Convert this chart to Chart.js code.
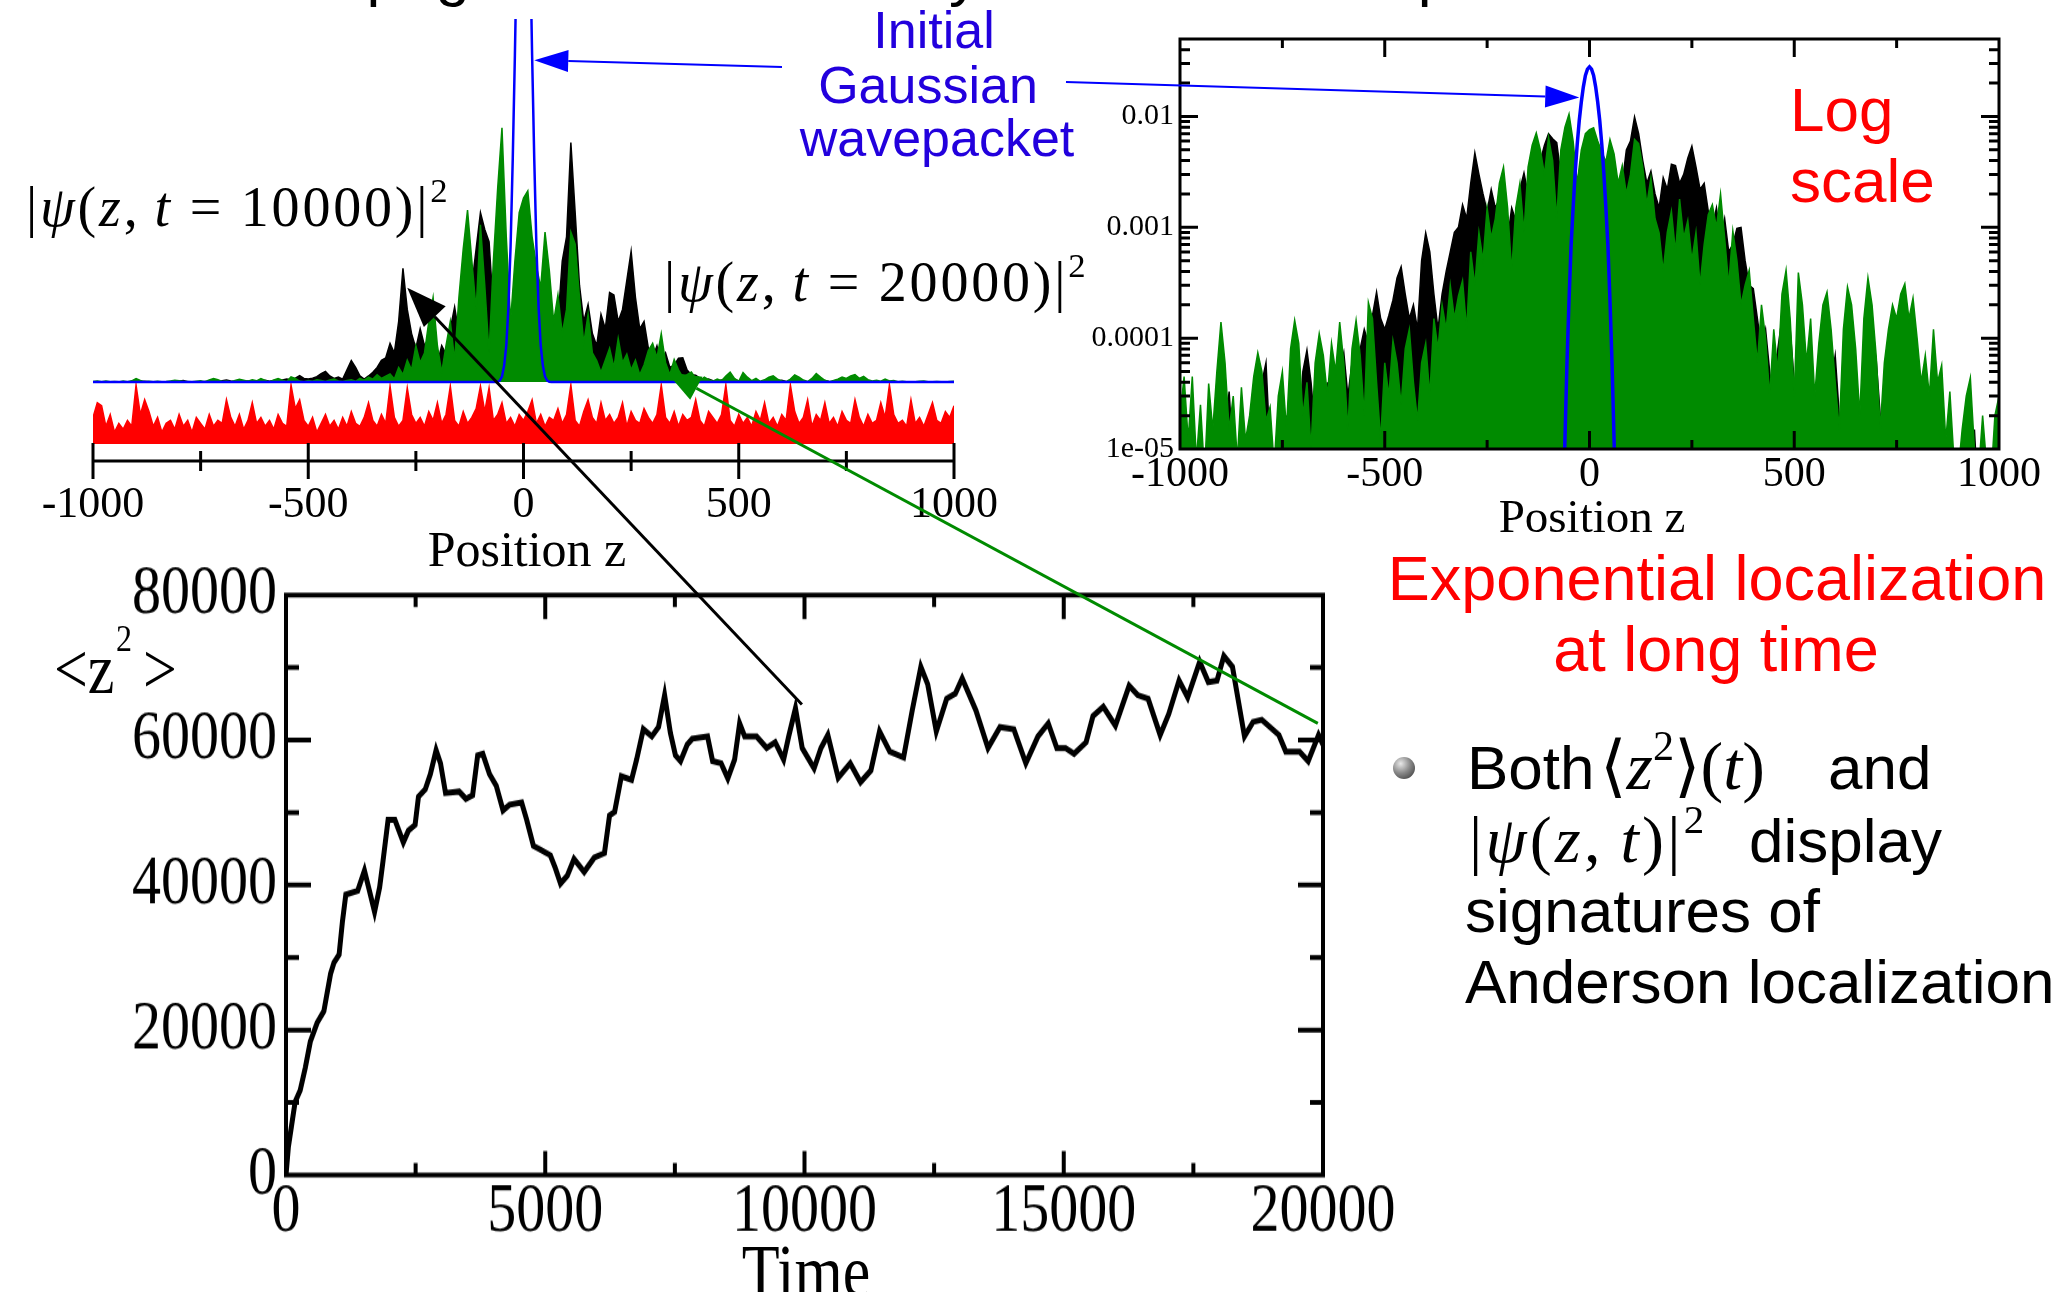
<!DOCTYPE html>
<html>
<head>
<meta charset="utf-8">
<script src="https://cdn.jsdelivr.net/npm/chart.js@4.4.1/dist/chart.umd.min.js"></script>
<style>
  html, body { margin: 0; padding: 0; background: #fff; }
  body { width: 2070px; height: 1292px; position: relative; overflow: hidden; }
  canvas { position: absolute; }
  .t { position: absolute; white-space: nowrap; }
  .sup { position: relative; font-size: 0.62em; top: -0.7em; }
  .math { letter-spacing: 0.05em; }
  #bottomBox { position: absolute; left: 0; top: 560px; width: 1400px; height: 610px; transform: scaleY(1.2); transform-origin: 0 0; }
  #overlay { z-index: 10; pointer-events: none; }
  #bullet { position: absolute; left: 1393px; top: 757px; width: 22px; height: 22px; border-radius: 50%;
            background: radial-gradient(circle at 35% 30%, #e8e8e8, #8a8a8a 45%, #2e2e2e 100%); }
</style>
</head>
<body>
<canvas id="topLeft" width="1020" height="520" style="left:0;top:0"></canvas>
<canvas id="topRight" width="990" height="540" style="left:1080px;top:0"></canvas>
<div id="bottomBox"><canvas id="bottom" width="1400" height="610" style="left:0;top:0"></canvas></div>
<div id="bullet"></div>
<canvas id="overlay" width="2070" height="1292" style="left:0;top:0"></canvas>
<script>
// <z^2>(t)
const msdTime = [0,46,111,176,274,372,469,600,730,861,926,1024,1089,1154,1382,1513,1610,1708,1806,1871,
  1969,2100,2263,2361,2490,2555,2686,2784,2895,2980,3077,3338,3469,3599,3697,3795,3925,4055,4186,4316,
  4544,4642,4772,4903,5099,5197,5295,5425,5555,5751,5947,6142,6240,6338,6468,6664,6762,6892,7055,7185,
  7302,7413,7511,7609,7739,7837,8130,8228,8391,8521,8652,8749,8847,9075,9270,9434,9597,9695,9826,9956,
  10185,10318,10450,10650,10882,11081,11280,11447,11646,11911,12078,12244,12376,12542,12742,12908,13041,13306,13539,13771,
  14037,14269,14502,14701,14867,15033,15199,15431,15564,15763,15996,16261,16427,16627,16859,17025,17224,17390,17622,17789,
  17955,18088,18254,18486,18652,18818,19150,19283,19548,19714,19914,20000];
const msdValue = [0,3900,7000,10100,11700,14800,18400,21000,22600,27800,29300,30400,35000,38700,39200,42000,39200,36300,39700,43300,
  49000,49000,45900,47500,48300,52200,53200,55300,58600,56800,52700,52900,51900,52400,57900,58100,55300,53700,50300,51100,
  51400,49000,45400,44900,44100,42300,40200,41300,43600,41800,43800,44400,49600,50100,55000,54500,57300,61500,60500,61800,
  66200,61000,57900,57100,59400,60200,60500,57100,56800,54700,57300,62300,60500,60500,58900,59700,57300,60500,64400,58900,
  56100,58900,60700,54800,56800,54200,55800,61200,58400,57600,64100,70100,67700,61200,65700,66400,68500,64100,58900,61800,
  61500,56800,60500,62300,58900,58900,58100,59700,63300,64600,62000,67500,66200,65700,60700,63600,68200,65900,70800,68000,
  68200,71600,70100,60500,62500,62800,60700,58400,58400,57100,60700,59400];

// |psi(z,t=20000)|^2, z = -1000..1000 step 10
const green20000 = [
  2e-5,4.5e-5,1.2e-5,4.5e-5,8e-6,2.5e-5,6e-6,3.9e-5,1.5e-5,5e-5,
  1.4e-4,6e-5,1.5e-5,3e-5,8e-6,3.6e-5,1.2e-5,2e-5,4.5e-5,7.4e-5,
  5e-5,1.8e-5,2.4e-5,7e-6,3e-5,5e-5,1.5e-5,8e-5,1.45e-4,9e-5,
  2e-5,4e-5,1e-5,6e-5,1.1e-4,7e-5,3e-5,9e-5,5e-5,1.4e-4,
  6e-5,1.5e-5,8e-5,1.45e-4,7e-5,2e-5,2.1e-4,1.5e-4,4e-5,1.2e-5,
  6e-5,3e-5,9.5e-5,6e-5,2.5e-5,8e-5,1.2e-4,4e-5,1.8e-5,6e-5,
  9e-5,3e-5,1.5e-4,8e-5,2e-4,1.2e-4,3e-4,1.5e-4,2.4e-4,3.3e-4,
  1.2e-4,6e-4,3e-4,9e-4,5e-4,1.5e-3,8e-4,1.2e-3,2.5e-3,3.5e-3,
  1.5e-3,4e-4,1.5e-3,2.5e-3,9e-4,3.5e-3,5.5e-3,7.1e-3,5e-3,3e-3,
  6.5e-3,4e-3,1.2e-3,5e-3,8e-3,1.05e-2,6e-3,2.5e-3,5e-3,7e-3,
  7.6e-3,7.9e-3,6e-3,4.8e-3,3.9e-3,6.2e-3,4.6e-3,2.5e-3,3.6e-3,2e-3,
  3e-3,6.2e-3,5.7e-3,3.5e-3,1.6e-3,2.8e-3,1.2e-3,8.9e-4,4e-4,9e-4,
  1.4e-3,6e-4,1.8e-3,8e-4,1.15e-3,5e-4,9e-4,3e-4,7e-4,1.3e-3,
  1.6e-3,1e-3,2e-3,8e-4,3e-4,9.3e-4,5e-4,2e-4,3e-4,4.1e-4,
  1.5e-4,6e-5,2e-4,1e-4,3e-5,1.2e-4,5e-5,2.5e-4,4.1e-4,1.5e-4,
  3e-5,3.9e-4,2e-4,6e-5,1.5e-4,3e-5,9e-5,2e-4,2.6e-4,1.2e-4,
  4e-5,1.5e-5,1.2e-4,2.9e-4,2e-4,8e-5,2e-5,1.5e-4,3.5e-4,2e-4,
  7e-5,1.5e-5,6e-5,1.2e-4,2e-4,1.5e-4,2.5e-4,3.1e-4,1.5e-4,2.3e-4,
  1e-4,4e-5,7e-5,3e-5,1.2e-4,4e-5,5.7e-5,1.2e-5,3.3e-5,8e-6,
  6e-6,1.5e-5,3e-5,4.4e-5,1e-5,6e-6,2e-5,7e-6,5e-6,2e-5,
  3e-5];

// |psi(z,t=10000)|^2, same grid
const black10000 = [
  8e-6,3e-6,1.5e-5,4e-6,2e-6,9e-6,3e-6,1.2e-5,4e-6,2e-5,
  6e-6,1.5e-5,3.3e-5,8e-6,3e-6,1.2e-5,4e-6,1.5e-5,6e-6,2.5e-5,
  4e-5,6e-5,1e-5,3e-6,1.5e-5,5e-6,2e-5,8e-6,3e-5,1.2e-5,
  5e-5,7.8e-5,4e-5,1.5e-5,3e-5,8e-6,4e-5,1.5e-5,3e-5,5e-5,
  7.4e-5,3e-5,6e-5,1.5e-5,8e-5,1.2e-4,9e-5,1.6e-4,2.6e-4,1.5e-4,
  1.2e-4,1.6e-4,2.2e-4,3.5e-4,4.4e-4,2.5e-4,1.5e-4,2e-4,1.2e-4,5e-4,
  8.9e-4,6e-4,2.5e-4,1.2e-4,2.5e-4,4e-4,6e-4,9e-4,1e-3,1.6e-3,
  1.2e-3,2.5e-3,4.7e-3,3e-3,2e-3,1.4e-3,2.2e-3,1.5e-3,1.8e-3,1.2e-3,
  8e-4,1.5e-3,1.15e-3,2.2e-3,3.1e-3,2e-3,3.5e-3,2.5e-3,4e-3,5.5e-3,
  7e-3,6.3e-3,5.8e-3,3e-3,1.2e-3,2e-3,8e-4,1.5e-3,1.5e-3,4e-4,
  2e-3,7.5e-3,2.5e-3,6e-4,1.2e-3,3e-3,4e-3,1.5e-3,2.5e-3,5e-3,
  6e-3,9.9e-3,7e-3,4e-3,2.5e-3,3.2e-3,2e-3,1.5e-3,2.8e-3,2.2e-3,
  3.7e-3,3.6e-3,2.5e-3,3e-3,4.2e-3,5.4e-3,3.5e-3,2.2e-3,2.5e-3,1.4e-3,
  1e-3,1.5e-3,8e-4,1.2e-3,6e-4,7e-4,9.8e-4,1e-3,5e-4,3e-4,
  2.8e-4,1.5e-4,8e-5,1.2e-4,5e-5,2e-5,8e-5,1.5e-4,2.3e-4,1.2e-4,
  4e-5,1.5e-5,3e-5,8e-6,2e-5,5e-6,1.5e-5,3e-5,8e-6,4e-5,
  7e-5,2e-5,6e-6,1.5e-5,4e-6,1e-5,3e-6,1.2e-5,3e-5,5e-5,
  6.5e-5,2e-5,6e-6,1.5e-5,4e-6,1.2e-5,3e-5,1.5e-5,3e-5,4.4e-5,
  1.5e-5,5e-6,1.2e-5,3e-6,8e-6,2e-5,6e-6,3e-6,1e-5,4e-6,
  2e-6,6e-6,2e-6,5e-6,1.5e-5,3e-6,8e-6,2e-6,5e-6,2e-6,
  3e-6];

// disorder potential (red), arbitrary units, same grid
const redPotential = [
  0.45,0.7,0.65,0.3,0.5,0.2,0.35,0.25,0.4,0.3,
  1.0,0.5,0.75,0.55,0.3,0.45,0.2,0.35,0.4,0.25,
  0.5,0.3,0.4,0.2,0.45,0.35,0.25,0.5,0.3,0.4,
  0.35,0.75,0.45,0.3,0.5,0.25,0.4,0.7,0.35,0.45,
  0.3,0.4,0.25,0.5,0.35,0.3,1.0,0.6,0.75,0.4,
  0.3,0.45,0.2,0.35,0.5,0.3,0.4,0.25,0.45,0.3,
  0.55,0.35,0.3,0.45,0.7,0.4,0.3,0.5,0.35,0.98,
  0.45,0.3,0.4,0.95,0.5,0.35,0.45,0.3,0.55,0.4,
  0.7,0.35,0.5,0.98,0.4,0.3,0.55,0.35,0.45,0.6,
  0.98,0.55,0.95,0.4,0.5,0.7,0.35,0.45,0.3,0.5,
  0.4,0.55,0.75,0.35,0.5,0.3,0.45,0.4,0.6,0.35,
  0.5,1.0,0.4,0.3,0.55,0.75,0.45,0.35,0.7,0.4,
  0.5,0.35,0.45,0.7,0.3,0.55,0.4,0.35,0.6,0.45,
  0.35,0.5,1.0,0.45,0.35,0.55,0.3,0.5,0.4,0.45,
  0.75,0.4,0.3,0.55,0.45,0.35,0.5,1.0,0.4,0.3,
  0.5,0.35,0.45,0.3,0.55,0.4,0.7,0.35,0.45,0.3,
  0.5,0.4,1.0,0.55,0.35,0.45,0.75,0.3,0.5,0.4,
  0.7,0.35,0.45,0.3,0.55,0.4,0.35,0.75,0.45,0.3,
  0.5,0.35,0.4,0.7,0.45,1.0,0.5,0.35,0.4,0.3,
  0.75,0.35,0.45,0.3,0.5,0.7,0.4,0.35,0.55,0.45,
  0.65];

// initial gaussian wavepacket
const blueZ = [-65,-60,-55,-50,-45,-40,-35,-30,-25,-20,-15,-10,-5,0,5,10,15,20,25,30,35,40,45,50,55,60,65];
const blueP = [2e-6,1.2e-5,6e-5,2.2e-4,6.8e-4,1.5e-3,3.1e-3,5.6e-3,9.2e-3,1.35e-2,1.85e-2,2.35e-2,2.67e-2,2.8e-2,
  2.67e-2,2.35e-2,1.85e-2,1.35e-2,9.2e-3,5.6e-3,3.1e-3,1.5e-3,6.8e-4,2.2e-4,6e-5,1.2e-5,2e-6];

const zTickValues = [-1000, -500, 0, 500, 1000];
const zTickLabels = ['-1000', '-500', '0', '500', '1000'];
const zMinorTicks = [-750, -250, 250, 750];
const logTickValues = [1e-5, 1e-4, 1e-3, 1e-2];
const logTickLabels = ['1e-05', '0.0001', '0.001', '0.01'];
const timeTickValues = [0, 5000, 10000, 15000, 20000];
const timeTickLabels = ['0', '5000', '10000', '15000', '20000'];
const timeMinorTicks = [2500, 7500, 12500, 17500];
const msdTickValues = [0, 20000, 40000, 60000, 80000];
const msdTickLabels = ['0', '20000', '40000', '60000', '80000'];
const msdMinorTicks = [10000, 30000, 50000, 70000];

const GREEN = '#008b00';
const SERIF = "'Liberation Serif'";
const SANS = "'Liberation Sans'";
const TR_LEFT = 1080;

const zGrid = [];
for (let z = -1000; z <= 1000; z += 10) zGrid.push(z);
const pts = (xs, ys) => xs.map((x, i) => ({ x: x, y: ys[i] }));

const logMinor = [];
[1e-5, 1e-4, 1e-3, 1e-2].forEach(d => { for (let k = 2; k <= 9; k++) if (k * d <= 0.05) logMinor.push(k * d); });

// frame / axis with ticks drawn from the scales
const frameTicks = {
  id: 'frameTicks',
  afterDatasetsDraw(chart, args, o) {
    const ctx = chart.ctx, a = chart.chartArea;
    const xs = chart.scales.x, ys = chart.scales.y;
    ctx.save();
    ctx.strokeStyle = '#000';
    ctx.lineWidth = o.lineWidth;
    ctx.beginPath();
    if (o.mode === 'axis') {
      ctx.moveTo(a.left, a.bottom); ctx.lineTo(a.right, a.bottom);
      o.xMajor.forEach(v => { const p = xs.getPixelForValue(v); ctx.moveTo(p, a.bottom - o.xMajorLen); ctx.lineTo(p, a.bottom + o.xMajorLen); });
      o.xMinor.forEach(v => { const p = xs.getPixelForValue(v); ctx.moveTo(p, a.bottom - o.xMinorLen); ctx.lineTo(p, a.bottom + o.xMinorLen); });
    } else {
      ctx.rect(a.left, a.top, a.width, a.height);
      const xt = (list, len) => list.forEach(v => {
        const p = xs.getPixelForValue(v);
        ctx.moveTo(p, a.bottom); ctx.lineTo(p, a.bottom - len);
        ctx.moveTo(p, a.top); ctx.lineTo(p, a.top + len);
      });
      const yt = (list, len) => list.forEach(v => {
        const p = ys.getPixelForValue(v);
        ctx.moveTo(a.left, p); ctx.lineTo(a.left + len, p);
        ctx.moveTo(a.right, p); ctx.lineTo(a.right - len, p);
      });
      xt(o.xMajor, o.xMajorLen); xt(o.xMinor, o.xMinorLen);
      yt(o.yMajor, o.yMajorLen); yt(o.yMinor, o.yMinorLen);
    }
    ctx.stroke();
    ctx.restore();
  }
};

const noGrid = { display: false, drawTicks: false };
const base = {
  responsive: false, animation: false, devicePixelRatio: 1,
  elements: { point: { radius: 0 }, line: { tension: 0, borderJoinStyle: 'miter' } },
};

// top left: linear |psi|^2 with the potential below
const blueLinear = [{ x: -1000, y: 0 }, { x: -70, y: 0 }].concat(pts(blueZ, blueP), [{ x: 70, y: 0 }, { x: 1000, y: 0 }]);
const chartTL = new Chart(document.getElementById('topLeft'), {
  type: 'line',
  data: { datasets: [
    { data: blueLinear, borderColor: '#0000ff', borderWidth: 2.5, fill: false, yAxisID: 'y' },
    { data: pts(zGrid, green20000), borderColor: GREEN, backgroundColor: GREEN, borderWidth: 1.5, fill: 'origin', yAxisID: 'y' },
    { data: pts(zGrid, black10000), borderColor: '#000', backgroundColor: '#000', borderWidth: 1.5, fill: 'origin', yAxisID: 'y' },
    { data: pts(zGrid, redPotential), borderColor: '#ff0000', backgroundColor: '#ff0000', borderWidth: 1.5, fill: 'origin', yAxisID: 'yr' }
  ]},
  options: Object.assign({}, base, {
    layout: { padding: { left: 93, right: 61, top: 19, bottom: 0 } },
    plugins: { legend: { display: false }, tooltip: { enabled: false },
      frameTicks: { mode: 'axis', lineWidth: 3, xMajor: zTickValues, xMinor: zMinorTicks, xMajorLen: 18, xMinorLen: 10 } },
    scales: {
      x: { type: 'linear', min: -1000, max: 1000,
        afterFit: s => { s.height = 59; },
        afterBuildTicks: s => { s.ticks = zTickValues.map(v => ({ value: v })); },
        ticks: { callback: (v, i) => zTickLabels[i], color: '#000', padding: 22, maxRotation: 0, autoSkip: false,
          font: { family: 'Liberation Serif', size: 44, lineHeight: 1 } },
        grid: noGrid, border: { display: false } },
      y: { display: false, min: -0.003264, max: 0.0150 },
      yr: { display: false, min: -0.288, max: 7.2 }
    }
  }),
  plugins: [frameTicks]
});

// top right: log scale
const chartTR = new Chart(document.getElementById('topRight'), {
  type: 'line',
  data: { datasets: [
    { data: pts(blueZ, blueP), borderColor: '#0000ff', borderWidth: 3.5, fill: false },
    { data: pts(zGrid, green20000), borderColor: GREEN, backgroundColor: GREEN, borderWidth: 1.5, fill: 'start' },
    { data: pts(zGrid, black10000), borderColor: '#000', backgroundColor: '#000', borderWidth: 1.5, fill: 'start' }
  ]},
  options: Object.assign({}, base, {
    layout: { padding: { left: 0, right: 71, top: 39, bottom: 0 } },
    plugins: { legend: { display: false }, tooltip: { enabled: false },
      frameTicks: { mode: 'box', lineWidth: 3, xMajor: zTickValues, xMinor: zMinorTicks, xMajorLen: 18, xMinorLen: 9,
        yMajor: logTickValues, yMinor: logMinor, yMajorLen: 18, yMinorLen: 10 } },
    scales: {
      x: { type: 'linear', min: -1000, max: 1000,
        afterFit: s => { s.height = 91; },
        afterBuildTicks: s => { s.ticks = zTickValues.map(v => ({ value: v })); },
        ticks: { callback: (v, i) => zTickLabels[i], color: '#000', padding: 5, maxRotation: 0, autoSkip: false,
          font: { family: 'Liberation Serif', size: 42, lineHeight: 1 } },
        grid: noGrid, border: { display: false } },
      y: { type: 'logarithmic', min: 1e-5, max: 0.05,
        afterFit: s => { s.width = 100; },
        afterBuildTicks: s => { s.ticks = logTickValues.map(v => ({ value: v })); },
        ticks: { callback: (v, i) => logTickLabels[i], color: '#000', padding: 6, autoSkip: false,
          font: { family: 'Liberation Serif', size: 30, lineHeight: 1 } },
        grid: noGrid, border: { display: false } }
    }
  }),
  plugins: [frameTicks]
});

// bottom: <z^2>(t)
const chartB = new Chart(document.getElementById('bottom'), {
  type: 'line',
  data: { datasets: [
    { data: pts(msdTime, msdValue), borderColor: '#000', borderWidth: 5, fill: false }
  ]},
  options: Object.assign({}, base, {
    layout: { padding: { left: 0, right: 77, top: 29.2, bottom: 0 } },
    plugins: { legend: { display: false }, tooltip: { enabled: false },
      frameTicks: { mode: 'box', lineWidth: 4, xMajor: timeTickValues, xMinor: timeMinorTicks, xMajorLen: 20, xMinorLen: 10,
        yMajor: msdTickValues, yMinor: msdMinorTicks, yMajorLen: 25, yMinorLen: 13 } },
    scales: {
      x: { type: 'linear', min: 0, max: 20000,
        afterFit: s => { s.height = 97.5; },
        afterBuildTicks: s => { s.ticks = timeTickValues.map(v => ({ value: v })); },
        ticks: { callback: (v, i) => timeTickLabels[i], color: '#000', padding: 2, maxRotation: 0, autoSkip: false,
          font: { family: 'Liberation Serif', size: 58, lineHeight: 1 } },
        grid: noGrid, border: { display: false } },
      y: { type: 'linear', min: 0, max: 80000,
        afterFit: s => { s.width = 286; },
        afterBuildTicks: s => { s.ticks = msdTickValues.map(v => ({ value: v })); },
        ticks: { callback: (v, i) => msdTickLabels[i], color: '#000', padding: 9, autoSkip: false,
          font: { family: 'Liberation Serif', size: 58, lineHeight: 0.68 } },
        grid: noGrid, border: { display: false } }
    }
  }),
  plugins: [frameTicks]
});

// text, placed by baseline
const mctx = document.createElement('canvas').getContext('2d');
function put(parent, html, x, baseline, size, family, color, align) {
  const d = document.createElement('div');
  d.className = 't';
  d.innerHTML = html;
  d.style.fontFamily = family;
  d.style.fontSize = size + 'px';
  d.style.lineHeight = size + 'px';
  d.style.color = color;
  mctx.font = size + 'px ' + family;
  const m = mctx.measureText('Hg');
  const asc = m.fontBoundingBoxAscent, desc = m.fontBoundingBoxDescent;
  d.style.top = (baseline - ((size - asc - desc) / 2 + asc)) + 'px';
  d.style.left = x + 'px';
  if (align === 'center') d.style.transform = 'translateX(-50%)';
  parent.appendChild(d);
  return d;
}
const body = document.body;
const box = document.getElementById('bottomBox');
const TXT_BLUE = '#2200dd', RED = '#ff0000';

put(body, 'Propagation of the initially localized wave packet', 270, -6, 62, SANS, '#000');
put(body, 'Initial', 934, 48, 52, SANS, TXT_BLUE, 'center');
put(body, 'Gaussian', 928, 103, 52, SANS, TXT_BLUE, 'center');
put(body, 'wavepacket', 937, 156, 52, SANS, TXT_BLUE, 'center');
put(body, '<span class="math">|<i>ψ</i>(<i>z</i>,&thinsp;<i>t</i> = 10000)|<span class="sup">2</span></span>', 26, 226, 56, SERIF, '#000');
put(body, '<span class="math">|<i>ψ</i>(<i>z</i>,&thinsp;<i>t</i> = 20000)|<span class="sup">2</span></span>', 664, 301, 56, SERIF, '#000');
put(body, 'Position z', 527, 566, 50, SERIF, '#000', 'center');
put(body, 'Position z', 1592, 532, 47, SERIF, '#000', 'center');
put(body, 'Log', 1790, 131, 62, SANS, RED);
put(body, 'scale', 1790, 202, 62, SANS, RED);
put(body, 'Exponential localization', 1717, 600, 63, SANS, RED, 'center');
put(body, 'at long time', 1716, 671, 63, SANS, RED, 'center');
put(body, 'Both', 1467, 789, 62, SANS, '#000');
put(body, '⟨<i>z</i><span class="sup">2</span>⟩(<i>t</i>)', 1600, 789, 68, SERIF + ", 'DejaVu Serif'", '#000');
put(body, 'and', 1828, 789, 62, SANS, '#000');
put(body, '<span class="math">|<i>ψ</i>(<i>z</i>,&thinsp;<i>t</i>)|<span class="sup">2</span></span>', 1469, 862, 66, SERIF, '#000');
put(body, 'display', 1749, 862, 62, SANS, '#000');
put(body, 'signatures of', 1465, 932, 62, SANS, '#000');
put(body, 'Anderson localization', 1465, 1003, 62, SANS, '#000');

put(box, 'Time', 806, 612.5, 62, SERIF, '#000', 'center');
put(box, '&lt;z', 54, 110.8, 60, SERIF, '#000');
put(box, '2', 116, 75.8, 32, SERIF, '#000');
put(box, '&gt;', 143, 110.8, 60, SERIF, '#000');

// annotation arrows
const pTL = (x, y) => [chartTL.scales.x.getPixelForValue(x), chartTL.scales.y.getPixelForValue(y)];
const pTR = (x, y) => [TR_LEFT + chartTR.scales.x.getPixelForValue(x), chartTR.scales.y.getPixelForValue(y)];
const pB = (x, y) => [chartB.scales.x.getPixelForValue(x), 560 + 1.2 * chartB.scales.y.getPixelForValue(y)];

const octx = document.getElementById('overlay').getContext('2d');
function arrow(from, to, color, lw, hl, hw) {
  const [x0, y0] = from, [x1, y1] = to;
  const ang = Math.atan2(y1 - y0, x1 - x0);
  const bx = x1 - hl * Math.cos(ang), by = y1 - hl * Math.sin(ang);
  octx.strokeStyle = color; octx.fillStyle = color; octx.lineWidth = lw;
  octx.beginPath(); octx.moveTo(x0, y0); octx.lineTo(bx, by); octx.stroke();
  octx.beginPath();
  octx.moveTo(x1, y1);
  octx.lineTo(bx + hw / 2 * Math.sin(ang), by - hw / 2 * Math.cos(ang));
  octx.lineTo(bx - hw / 2 * Math.sin(ang), by + hw / 2 * Math.cos(ang));
  octx.closePath(); octx.fill();
}
arrow([782, 67], pTL(25, 0.0133), '#0000ff', 2, 34, 22);
arrow([1066, 82], pTR(-25, 0.0148), '#0000ff', 2, 34, 22);
arrow(pB(9950, 64900), pTL(-270, 0.0039), '#000', 3, 40, 30);
arrow(pB(19900, 62300), pTL(332, 0.00041), GREEN, 3, 34, 26);
</script>
</body>
</html>
